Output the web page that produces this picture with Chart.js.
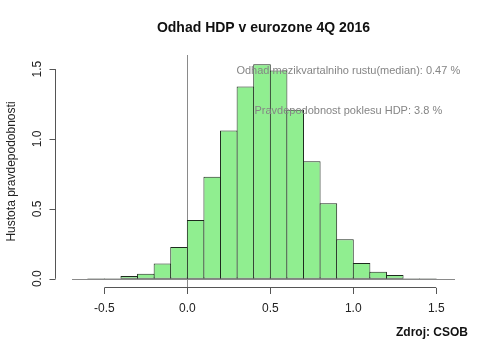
<!DOCTYPE html>
<html>
<head>
<meta charset="utf-8">
<script src="https://cdn.jsdelivr.net/npm/chart.js@4.4.1/dist/chart.umd.min.js"></script>
<style>
  html, body { margin: 0; padding: 0; background: #ffffff; }
  #wrap { width: 498px; height: 356px; }
</style>
</head>
<body>
<div id="wrap"><canvas id="c" width="498" height="356"></canvas></div>
<script>
// ---- data ----
const binStarts = [-0.6, -0.5, -0.4, -0.3, -0.2, -0.1, 0.0, 0.1, 0.2, 0.3, 0.4, 0.5, 0.6, 0.7, 0.8, 0.9, 1.0, 1.1, 1.2, 1.3, 1.4];
const densities = [0.003, 0.004, 0.02, 0.036, 0.11, 0.228, 0.42, 0.73, 1.06, 1.375, 1.535, 1.49, 1.21, 0.84, 0.54, 0.283, 0.113, 0.05, 0.027, 0.004, 0.003];
const binWidth = 0.1;
const xTicks = [-0.5, 0.0, 0.5, 1.0, 1.5];
const yTicks = [0.0, 0.5, 1.0, 1.5];
const chartTitle = 'Odhad HDP v eurozone 4Q 2016';
const yTitle = 'Hustota pravdepodobnosti';
const sourceText = 'Zdroj: CSOB';
const notes = [
  { text: 'Odhad mezikvartalniho rustu(median): 0.47 %', x: 0.97, y: 1.49 },
  { text: 'Pravdepodobnost poklesu HDP: 3.8 %', x: 0.97, y: 1.20 }
];

const FONT = '"Liberation Sans", Arial, sans-serif';
const histData = binStarts.map((s, i) => ({ x: s + binWidth / 2, y: densities[i] }));

const rAxes = {
  id: 'rAxes',
  beforeDatasetsDraw(chart) {
    const ctx = chart.ctx, a = chart.chartArea;
    const xs = chart.scales.x, ys = chart.scales.y;
    ctx.save();
    ctx.strokeStyle = '#8a8a8a';
    ctx.lineWidth = 1;
    const x0 = Math.round(xs.getPixelForValue(0)) + 0.5;
    ctx.beginPath(); ctx.moveTo(x0, a.top); ctx.lineTo(x0, a.bottom); ctx.stroke();
    const y0 = Math.round(ys.getPixelForValue(0)) + 0.5;
    ctx.beginPath(); ctx.moveTo(a.left, y0); ctx.lineTo(a.right, y0); ctx.stroke();
    ctx.restore();
  },
  afterDatasetsDraw(chart) {
    const ctx = chart.ctx, a = chart.chartArea;
    const xs = chart.scales.x, ys = chart.scales.y;
    ctx.save();
    ctx.fillStyle = '#858585';
    ctx.font = '11px ' + FONT;
    ctx.textAlign = 'center';
    ctx.textBaseline = 'middle';
    notes.forEach(n => ctx.fillText(n.text, xs.getPixelForValue(n.x), ys.getPixelForValue(n.y)));
    ctx.strokeStyle = '#555';
    ctx.lineWidth = 1;
    const ya = Math.round(a.bottom) - 0.5;
    ctx.beginPath();
    ctx.moveTo(xs.getPixelForValue(xTicks[0]), ya);
    ctx.lineTo(xs.getPixelForValue(xTicks[xTicks.length - 1]), ya);
    ctx.stroke();
    const xa = Math.round(a.left - 17) + 0.5;
    ctx.beginPath();
    ctx.moveTo(xa, ys.getPixelForValue(yTicks[0]));
    ctx.lineTo(xa, ys.getPixelForValue(yTicks[yTicks.length - 1]));
    yTicks.forEach(v => {
      const py = Math.round(ys.getPixelForValue(v)) + 0.5;
      ctx.moveTo(xa, py); ctx.lineTo(xa - 6, py);
    });
    ctx.stroke();
    ctx.fillStyle = '#222';
    ctx.font = '12px ' + FONT;
    yTicks.forEach(v => {
      ctx.save();
      ctx.translate(xa - 18, ys.getPixelForValue(v));
      ctx.rotate(-Math.PI / 2);
      ctx.textAlign = 'center';
      ctx.textBaseline = 'middle';
      ctx.fillText(v.toFixed(1), 0, 0);
      ctx.restore();
    });
    ctx.fillStyle = '#111';
    ctx.font = 'bold 14px ' + FONT;
    ctx.textAlign = 'center';
    ctx.textBaseline = 'middle';
    ctx.fillText(chartTitle, (a.left + a.right) / 2, 28);
    ctx.font = 'bold 12px ' + FONT;
    ctx.textAlign = 'right';
    ctx.fillText(sourceText, 468, 333);
    ctx.restore();
  }
};

new Chart(document.getElementById('c'), {
  type: 'bar',
  data: {
    datasets: [{
      data: histData,
      backgroundColor: '#90EE90',
      borderColor: '#1e2a1e',
      borderWidth: 1,
      borderSkipped: false,
      barPercentage: 1.06,
      categoryPercentage: 1.0,
      grouped: false
    }]
  },
  options: {
    responsive: false,
    animation: false,
    devicePixelRatio: 1,
    layout: { padding: { top: 55, right: 43, left: 0, bottom: 0 } },
    plugins: { legend: { display: false }, tooltip: { enabled: false }, title: { display: false } },
    scales: {
      x: {
        type: 'linear',
        offset: false,
        min: -0.695,
        max: 1.613,
        afterBuildTicks: s => { s.ticks = xTicks.map(v => ({ value: v })); },
        afterFit: s => { s.height = 68; },
        grid: { display: true, offset: false, drawOnChartArea: false, drawTicks: true, tickLength: 6, color: '#555', tickColor: '#555' },
        border: { display: false },
        ticks: {
          padding: 7,
          color: '#222',
          font: { family: FONT, size: 12 },
          maxRotation: 0,
          callback: v => v.toFixed(1)
        }
      },
      y: {
        type: 'linear',
        min: -0.066,
        max: 1.601,
        afterBuildTicks: s => { s.ticks = yTicks.map(v => ({ value: v })); },
        afterFit: s => { s.width = 72; },
        grid: { display: false },
        border: { display: false },
        ticks: { display: false },
        title: {
          display: true,
          text: yTitle,
          color: '#222',
          font: { family: FONT, size: 12 },
          padding: { top: 4, bottom: 0 }
        }
      }
    }
  },
  plugins: [rAxes]
});
</script>
</body>
</html>
